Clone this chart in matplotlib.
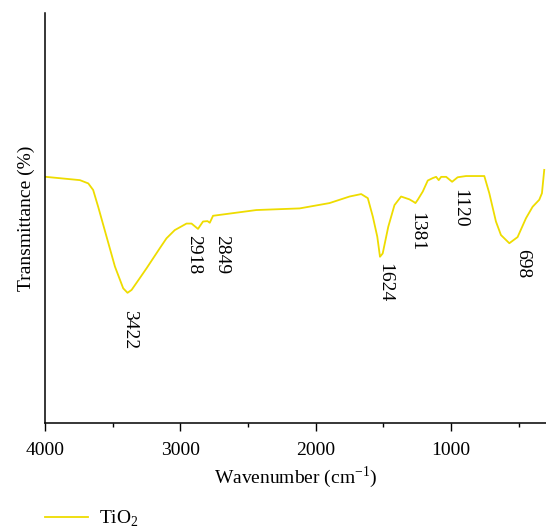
import matplotlib
matplotlib.use("Agg")
import matplotlib.pyplot as plt
from matplotlib.ticker import MultipleLocator

plt.rcParams["font.family"] = ["Liberation Serif", "DejaVu Serif"]
plt.rcParams["mathtext.fontset"] = "custom"
plt.rcParams["mathtext.rm"] = "Liberation Serif"

# FTIR spectrum of TiO2
wavenumber = [3993, 3742, 3680, 3644, 3607, 3545, 3483, 3422, 3390, 3360,
              3299, 3249, 3151, 3102, 3041, 2954, 2917, 2869, 2832, 2799,
              2782, 2758, 2438, 2118, 1897, 1749, 1663, 1614, 1577, 1544,
              1524, 1504, 1463, 1417, 1368, 1306, 1275, 1262, 1245, 1208,
              1171, 1134, 1109, 1090, 1072, 1035, 991, 950, 888, 753,
              716, 667, 630, 568, 507, 445, 396, 347, 327, 310]
transmittance = [60.0, 59.2, 58.4, 56.8, 52.7, 45.4, 38.1, 32.8, 31.7, 32.4,
                 35.3, 37.7, 42.6, 45.0, 47.0, 48.6, 48.6, 47.3, 49.1, 49.2,
                 48.8, 50.5, 51.9, 52.3, 53.6, 55.2, 55.8, 54.8, 50.3, 45.4,
                 40.5, 41.3, 47.8, 53.1, 55.2, 54.5, 53.9, 53.6, 54.4, 56.4,
                 59.1, 59.7, 60.0, 59.2, 60.0, 60.0, 58.8, 59.9, 60.2, 60.2,
                 56.0, 49.1, 45.8, 43.8, 45.3, 49.9, 52.7, 54.4, 56.0, 61.7]

# peak labels: text, anchor wavenumber, anchor transmittance
peak_text = ["3422", "2918", "2849", "1624", "1381", "1120", "698"]
peak_x = [3373, 2900, 2696, 1491, 1255, 932, 470]
peak_y = [27.5, 45.8, 45.8, 39.0, 51.5, 57.0, 42.3]

fig = plt.figure(figsize=(5.46, 5.32), dpi=100)
ax = fig.add_axes([0.0824, 0.2055, 0.9176, 0.7701])

line, = ax.plot(wavenumber, transmittance, color="#EEDC00", lw=1.3, label="TiO$_2$")

for t, x, y in zip(peak_text, peak_x, peak_y):
    ax.text(x, y, t, rotation=-90, ha="center", va="top", fontsize=14)

ax.set_xlim(4000, 297)
ax.set_ylim(0, 100)
ax.xaxis.set_major_locator(MultipleLocator(1000))
ax.xaxis.set_minor_locator(MultipleLocator(500))
ax.tick_params(axis="x", which="major", direction="out", length=6, width=1, labelsize=14, pad=8)
ax.tick_params(axis="x", which="minor", direction="out", length=3, width=1)
ax.set_yticks([])
for s in ["top", "right"]:
    ax.spines[s].set_visible(False)
for s in ["left", "bottom"]:
    ax.spines[s].set_linewidth(1.1)

ax.set_xlabel("Wavenumber (cm$^{-1}$)", fontsize=14, labelpad=4)
ax.set_ylabel("Transmittance (%)", fontsize=14, labelpad=7)

fig.legend(handles=[line], loc="center left", bbox_to_anchor=(0.082, 0.025),
           frameon=False, fontsize=14, handlelength=2.2, handletextpad=0.6,
           borderpad=0, borderaxespad=0)

fig.savefig("out.png", dpi=100)
